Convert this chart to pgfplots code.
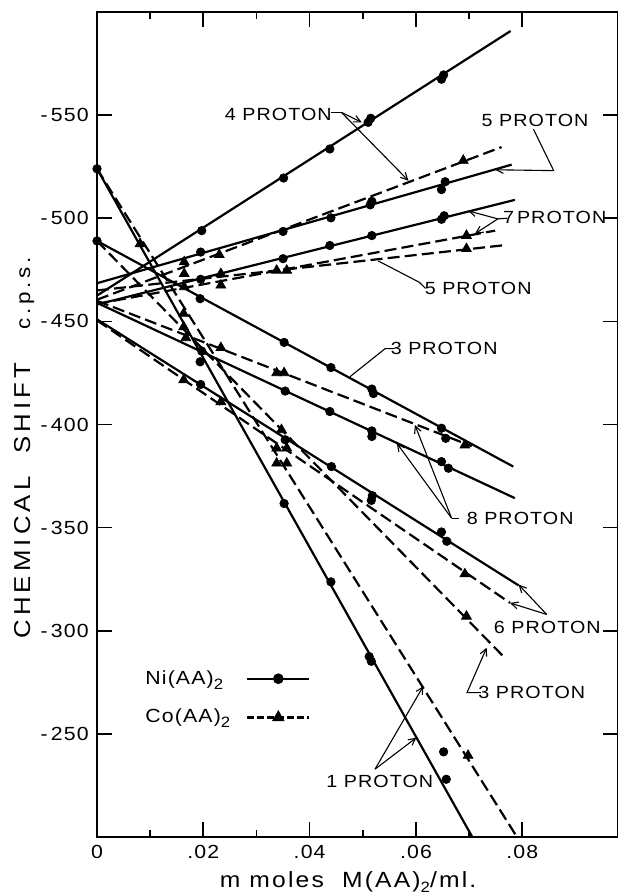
\documentclass[border=0pt]{standalone}
\usepackage{pgfplots}
\pgfplotsset{compat=1.18}
\usepackage{fontspec}
\setmainfont{Liberation Sans}[FakeStretch=1.12, LetterSpace=6]
\usetikzlibrary{arrows.meta}
\newcommand\sub[1]{\raisebox{-0.5ex}{\fontsize{7.5}{7.5}\selectfont #1}}
\newcommand\mneg[1]{-\hspace{1.5pt}#1}
\begin{document}
\begin{tikzpicture}[
  lab/.style={font=\fontsize{8.8}{10}\selectfont, inner sep=0pt, anchor=center},
  lead/.style={line width=0.55pt},
  arr/.style={line width=0.55pt, -{Straight Barb[length=3.5pt,width=3.5pt]}},
]
\begin{axis}[
  scale only axis, width=260.5pt, height=412.5pt,
  xmin=0, xmax=0.098, ymin=-600, ymax=-200, y dir=reverse,
  scaled x ticks=false, scaled y ticks=false,
  axis line style={line width=0.95pt},
  every tick/.style={black, line width=0.85pt},
  major tick length=7.5pt, minor tick length=3.5pt,
  xtick={0,0.02,0.04,0.06,0.08}, xticklabels={0,.02,.04,.06,.08},
  minor x tick num=1,
  ytick={-550,-500,-450,-400,-350,-300,-250},
  yticklabels={\mneg{550},\mneg{500},\mneg{450},\mneg{400},\mneg{350},\mneg{300},\mneg{250}},
  ticklabel style={font=\fontsize{9.5}{11}\selectfont},
  xticklabel style={inner sep=0pt, anchor=north, yshift=-3.7pt},
  yticklabel style={inner sep=0pt, anchor=east, xshift=-4pt},
  xlabel={\addfontfeature{LetterSpace=10}m moles\ \ M(AA)\sub{2}/ml.},
  xlabel style={at={(axis description cs:0.482,0)}, anchor=center, yshift=-22.5pt, font=\fontsize{11}{12}\selectfont, inner sep=0pt},
  ylabel={\addfontfeature{LetterSpace=18}CHEMICAL\ \ SHIFT\ \ \ {\fontsize{10}{12}\selectfont c.p.s.}},
  ylabel style={at={(axis description cs:-0.14,0.4715)}, anchor=center, font=\fontsize{11.5}{13}\selectfont, inner sep=0pt},
  ni/.style={black, line width=1.1pt, solid},
  co/.style={black, line width=1.1pt, dash pattern=on 6pt off 2.6pt},
  nim/.style={only marks, black, mark=*, mark size=2.1pt},
  com/.style={only marks, black, mark=triangle*, mark size=2.8pt},
  legend plot pos=right,
  legend cell align=left,
  legend image code/.code={\draw[mark repeat=2,mark phase=2,#1] plot coordinates {(0pt,0pt) (15.5pt,0pt) (31pt,0pt)};},
  legend style={at={(axis cs:0.00903,-281)}, anchor=north west, draw=none, fill=none, inner sep=0pt, row sep=11pt, column sep=8pt, font=\fontsize{9.5}{11}\selectfont, nodes={inner sep=0pt}},
  clip=false,
]
% --- Ni(AA)2 fitted lines (solid)
\addplot[ni, forget plot] coordinates {(0,-524) (0.0706,-200)};     % 1 proton
\addplot[ni, forget plot] coordinates {(0,-489) (0.0783,-379.6)};   % 3 proton
\addplot[ni, forget plot] coordinates {(0,-462.5) (0.0778,-590.8)}; % 4 proton
\addplot[ni, forget plot] coordinates {(0,-468.5) (0.078,-526)};    % 5 proton
\addplot[ni, forget plot] coordinates {(0,-451) (0.0793,-322)};     % 6 proton
\addplot[ni, forget plot] coordinates {(0,-458.2) (0.0786,-508.9)}; % 7 proton
\addplot[ni, forget plot] coordinates {(0,-459) (0.0786,-364.3)};   % 8 proton
% --- Co(AA)2 fitted lines (dashed)
\addplot[co, forget plot] coordinates {(0,-524) (0.079,-200)};      % 1 proton
\addplot[co, forget plot] coordinates {(0,-489) (0.0765,-287.4)};   % 3 proton
\addplot[co, forget plot] coordinates {(0,-460.5) (0.0761,-534.5)}; % 4 proton
\addplot[co, forget plot] coordinates {(0,-465) (0.0768,-487)};     % 5 proton
\addplot[co, forget plot] coordinates {(0,-450.5) (0.0777,-313.5)}; % 6 proton
\addplot[co, forget plot] coordinates {(0,-458.5) (0.0749,-494)};   % 7 proton
\addplot[co, forget plot] coordinates {(0,-460) (0.0705,-389.5)};   % 8 proton
% --- Ni points
\addplot[nim, forget plot] coordinates {
 (0,-524) (0,-489)
 (0.0194,-430.4) (0.0352,-361.7) (0.044,-323.7) (0.0512,-287.5) (0.0516,-285.2) (0.0652,-241.3) (0.0657,-228)
 (0.0194,-461) (0.0352,-439.8) (0.044,-427.6) (0.0517,-417.2) (0.052,-415) (0.0648,-398.2) (0.0656,-393.3)
 (0.0197,-494) (0.0351,-519.5) (0.0438,-533.6) (0.051,-546.5) (0.0515,-548.5) (0.0648,-567.4) (0.0652,-569.5)
 (0.0195,-483.6) (0.035,-493.6) (0.044,-500.2) (0.0514,-506.5) (0.0517,-508.2) (0.0648,-513.9) (0.0655,-517.7)
 (0.0195,-419.4) (0.0354,-392.6) (0.0441,-379.6) (0.0516,-363.2) (0.0518,-365.5) (0.0648,-347.9) (0.0658,-343.4)
 (0.0195,-470.4) (0.035,-480.4) (0.0438,-486.8) (0.0517,-491.6) (0.0648,-499.5) (0.0653,-501.2)
 (0.0197,-435.6) (0.0354,-416.2) (0.0438,-406.3) (0.0517,-396.9) (0.0517,-394.2) (0.0648,-382) (0.0661,-378.8)
};
% --- Co points
\addplot[com, forget plot] coordinates {
 (0.0081,-487.6) (0.0163,-453.8) (0.0338,-381.2) (0.0357,-381.2) (0.0698,-239.5)
 (0.0163,-447.3) (0.0347,-397.4) (0.0695,-307)
 (0.0164,-478.8) (0.023,-482.3) (0.0689,-528)
 (0.0164,-473.1) (0.0233,-473.1) (0.0338,-474.7) (0.0695,-485.2)
 (0.0163,-421.6) (0.0233,-411) (0.0338,-388.5) (0.0357,-388.5) (0.0692,-327.5)
 (0.0164,-466.7) (0.0233,-467.5) (0.0357,-474.7) (0.0695,-491.6)
 (0.0167,-442) (0.0233,-437.2) (0.0338,-425) (0.0352,-425) (0.0692,-390)
};
% --- legend
\addlegendimage{black, line width=1.1pt, solid, mark=*, mark size=2.1pt, mark options={solid}}
\addlegendentry{Ni(AA)\sub{2}}
\addlegendimage{black, line width=1.1pt, dash pattern=on 3.2pt off 1.8pt, mark=triangle*, mark size=2.6pt, mark options={solid}}
\addlegendentry{Co(AA)\sub{2}}
% --- annotations
\node[lab] at (axis cs:0.0341,-550.5) {4 PROTON};
\draw[lead] (axis cs:0.0440,-551.3) -- (axis cs:0.0460,-551.3);
\draw[arr] (axis cs:0.0460,-551.3) -- (axis cs:0.0498,-546.5);
\draw[arr] (axis cs:0.0460,-551.3) -- (axis cs:0.0586,-518.2);
\node[lab] at (axis cs:0.0824,-547.6) {5 PROTON};
\draw[arr] (axis cs:0.0821,-543.2) -- (axis cs:0.0859,-523.1) -- (axis cs:0.0749,-523.5);
\node[lab] at (axis cs:0.0861,-500.2) {7\,PROTON};
\draw[lead] (axis cs:0.0771,-500) -- (axis cs:0.0754,-499.7);
\draw[arr] (axis cs:0.0754,-499.7) -- (axis cs:0.0698,-503.6);
\draw[arr] (axis cs:0.0754,-499.7) -- (axis cs:0.0711,-492.5);
\node[lab] at (axis cs:0.0717,-465.9) {5 PROTON};
\draw[lead] (axis cs:0.0618,-466) -- (axis cs:0.0606,-469) -- (axis cs:0.0529,-479.3);
\node[lab] at (axis cs:0.0653,-436.8) {3 PROTON};
\draw[lead] (axis cs:0.0560,-436.8) -- (axis cs:0.0542,-436.8) -- (axis cs:0.0476,-423.2);
\node[lab] at (axis cs:0.0796,-354.6) {8 PROTON};
\draw[lead] (axis cs:0.0680,-354.6) -- (axis cs:0.0667,-354.6);
\draw[arr] (axis cs:0.0667,-354.6) -- (axis cs:0.0564,-390.9);
\draw[arr] (axis cs:0.0667,-354.6) -- (axis cs:0.0598,-399.8);
\node[lab] at (axis cs:0.0847,-301.4) {6 PROTON};
\draw[arr] (axis cs:0.0846,-307.9) -- (axis cs:0.0793,-322.4);
\draw[arr] (axis cs:0.0846,-307.9) -- (axis cs:0.0777,-313.5);
\node[lab] at (axis cs:0.0818,-270) {3 PROTON};
\draw[arr] (axis cs:0.0722,-270) -- (axis cs:0.0696,-270) -- (axis cs:0.0733,-291.8);
\node[lab] at (axis cs:0.0532,-226.9) {1 PROTON};
\draw[arr] (axis cs:0.0523,-232.9) -- (axis cs:0.0614,-273.2);
\draw[arr] (axis cs:0.0523,-232.9) -- (axis cs:0.0601,-248.2);
\end{axis}
\pgfresetboundingbox
\path[use as bounding box] (-48.5pt,-29pt) rectangle (260pt,418.5pt);
\end{tikzpicture}
\end{document}
